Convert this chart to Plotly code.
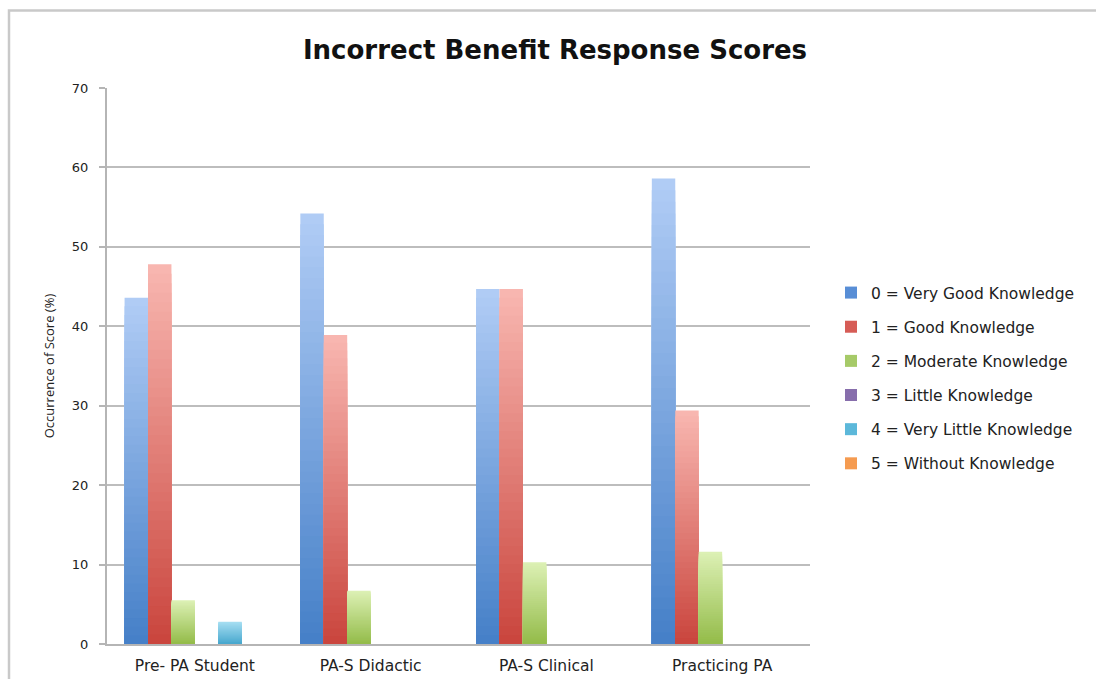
import plotly.graph_objects as go

# Survey groups and the share of each incorrect-benefit score (%)
categories = ["Pre- PA Student", "PA-S Didactic", "PA-S Clinical", "Practicing PA"]
score_labels = [
    "0 = Very Good Knowledge",
    "1 = Good Knowledge",
    "2 = Moderate Knowledge",
    "3 = Little Knowledge",
    "4 = Very Little Knowledge",
    "5 = Without Knowledge",
]
very_good = [43.6, 54.2, 44.7, 58.6]
good = [47.8, 38.9, 44.7, 29.4]
moderate = [5.5, 6.7, 10.3, 11.6]
little = [0, 0, 0, 0]
very_little = [2.8, 0, 0, 0]
without = [0, 0, 0, 0]
series_values = [very_good, good, moderate, little, very_little, without]

y_ticks = [0, 10, 20, 30, 40, 50, 60, 70]

# (top colour, bottom colour, legend swatch) for each score
palette = [
    ((176, 204, 245), (70, 128, 200), (88, 142, 214)),
    ((248, 182, 176), (202, 70, 62), (214, 92, 86)),
    ((220, 240, 180), (148, 188, 74), (166, 202, 104)),
    ((190, 170, 215), (120, 92, 160), (135, 110, 172)),
    ((166, 222, 242), (72, 168, 206), (92, 184, 218)),
    ((250, 200, 150), (240, 140, 60), (245, 155, 80)),
]

N_STEPS = 40
GROUP_WIDTH = 0.8
n_series = len(series_values)
bar_w = GROUP_WIDTH / n_series

FONT = "DejaVu Sans"


def mix(c1, c2, t):
    return "rgb(%d,%d,%d)" % tuple(round(a + (b - a) * t) for a, b in zip(c1, c2))


fig = go.Figure()
for k, (vals, label, (top, bottom, swatch)) in enumerate(zip(series_values, score_labels, palette)):
    offset = -GROUP_WIDTH / 2 + k * bar_w
    # vertical gradient: full bar in the light tone, then progressively
    # shorter and darker bars drawn on top of it
    for i in range(N_STEPS):
        frac = 1 - i / N_STEPS
        t = i / (N_STEPS - 1)
        fig.add_trace(go.Bar(
            x=categories,
            y=[v * frac for v in vals],
            width=bar_w,
            offset=offset,
            marker=dict(color=mix(top, bottom, t), line=dict(width=0)),
            legendgroup=label,
            showlegend=False,
            hoverinfo="skip",
        ))
    # legend entry
    fig.add_trace(go.Bar(
        x=categories,
        y=[None] * len(categories),
        name=label,
        marker=dict(color="rgb(%d,%d,%d)" % swatch, line=dict(width=0)),
        legendgroup=label,
        showlegend=True,
    ))

# plot-area pixel geometry used for the outer frame and legend
L, R, T, B = 107, 286, 88, 35
W, H = 1096, 679
pw, ph = W - L - R, H - T - B


def px_x(x):
    return (x - L) / pw


def px_y(y):
    return (H - B - y) / ph


fig.add_shape(
    type="rect", xref="paper", yref="paper",
    x0=px_x(9), x1=px_x(1120), y0=px_y(700), y1=px_y(10.5),
    line=dict(color="#c9c9c9", width=2.5), fillcolor="rgba(0,0,0,0)",
    layer="below",
)

fig.update_layout(
    width=W, height=H,
    margin=dict(l=L, r=R, t=T, b=B, autoexpand=False),
    paper_bgcolor="white", plot_bgcolor="white",
    barmode="overlay",
    font=dict(family=FONT, color="#222222"),
    title=dict(
        text="<b>Incorrect Benefit Response Scores</b>",
        x=555 / W, xref="container", xanchor="center",
        y=1 - 50 / H, yref="container", yanchor="middle",
        font=dict(family=FONT, size=26, color="#111111"),
    ),
    showlegend=True,
    legend=dict(
        x=px_x(831), xanchor="left",
        y=px_y(276), yanchor="top",
        traceorder="grouped",
        tracegroupgap=11,
        font=dict(family=FONT, size=15.5, color="#222222"),
        bgcolor="rgba(0,0,0,0)",
    ),
    xaxis=dict(
        automargin=False,
        showgrid=False,
        showline=True, linecolor="#b5b5b5", linewidth=2,
        ticks="",
        ticklabelstandoff=6,
        tickfont=dict(family=FONT, size=15.5, color="#222222"),
        range=[-0.5, 3.5],
    ),
    yaxis=dict(
        automargin=False,
        range=[0, 70],
        tickvals=y_ticks,
        showgrid=True, gridcolor="#bdbdbd", gridwidth=2,
        showline=True, linecolor="#b5b5b5", linewidth=2,
        ticks="outside", ticklen=6, tickcolor="#b5b5b5", tickwidth=2,
        ticklabelstandoff=8,
        tickfont=dict(family=FONT, size=13, color="#222222"),
        zeroline=False,
        title=dict(text="Occurrence of Score (%)",
                   font=dict(family="Open Sans", size=13, color="#222222"), standoff=14),
    ),
)

fig.write_html("out.html")
